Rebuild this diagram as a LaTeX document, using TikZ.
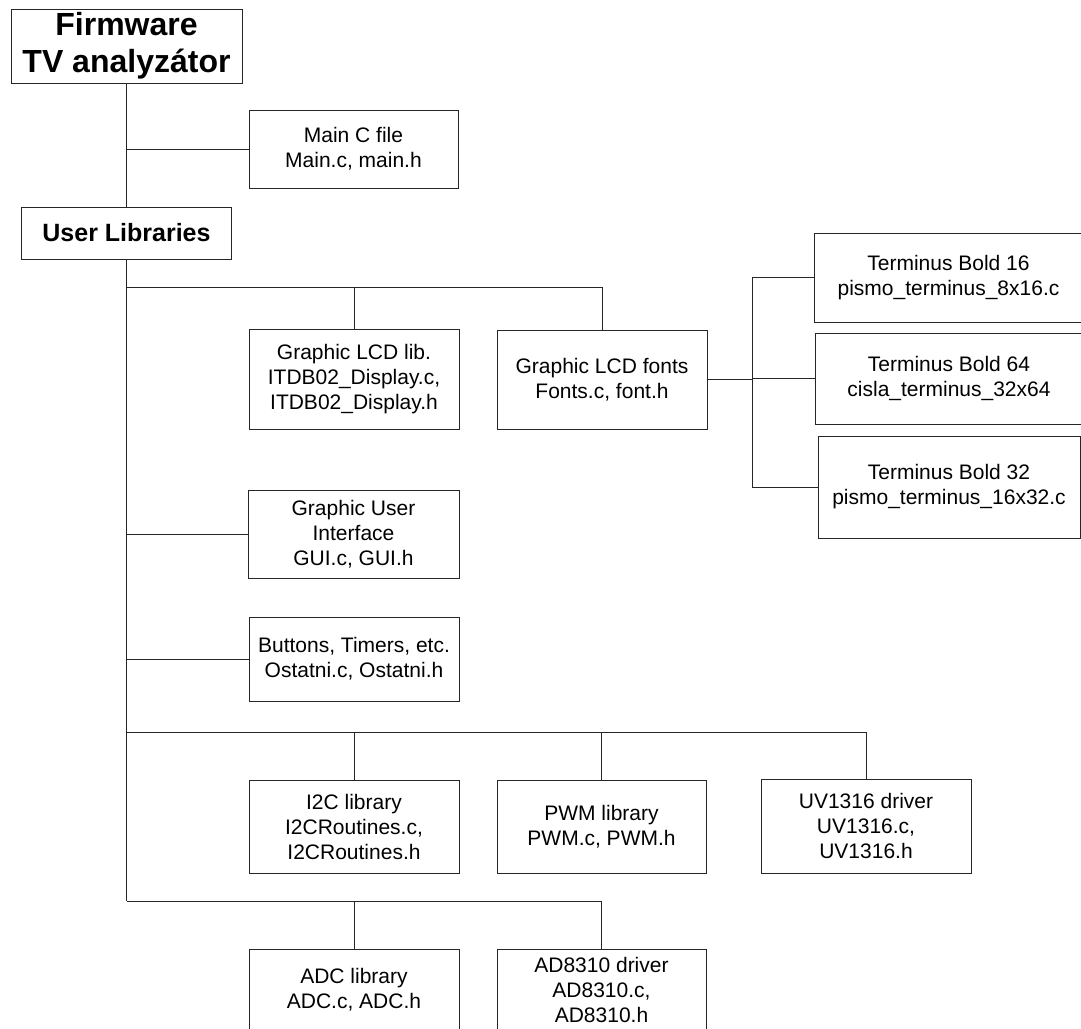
\documentclass[tikz,border=0pt]{standalone}
\usepackage{fontspec}
\setmainfont{Liberation Sans}
\begin{document}
\begin{tikzpicture}[x=1pt,y=-1pt,
  lib/.style={draw=black!85,line width=1pt,fill=white,align=center,inner sep=0pt,
    font=\fontsize{21}{25}\selectfont},
  headbox/.style={lib,font=\bfseries\fontsize{25}{29}\selectfont},
  titlebox/.style={lib,font=\bfseries\fontsize{32}{37}\selectfont},
  wire/.style={draw=black!85,line width=1pt}]
\useasboundingbox (0,0) rectangle (1081,1028);
\clip (0,0) rectangle (1081,1028);
\fill[white] (0,0) rectangle (1081,1028);

\node[titlebox,minimum width=231pt,minimum height=74pt] (title) at (126.5,46) {Firmware\\TV analyzátor};
\node[lib,minimum width=209pt,minimum height=78pt] (mainc) at (353.5,149) {Main C file\\Main.c, main.h};
\node[headbox,minimum width=210pt,minimum height=52pt] (ulib) at (126.5,233) {User Libraries};
\node[lib,minimum width=210pt,minimum height=100pt] (lcdlib) at (354,379) {Graphic LCD lib.\\ITDB02\_Display.c,\\ITDB02\_Display.h};
\node[lib,minimum width=210pt,minimum height=99pt] (lcdfonts) at (602,379.5) {Graphic LCD fonts\\Fonts.c, font.h};
\node[lib,minimum width=269pt,minimum height=89pt] (t16) at (948.5,277.5) {Terminus Bold 16\\pismo\_terminus\_8x16.c};
\node[lib,minimum width=268pt,minimum height=91pt] (t64) at (949,378.5) {Terminus Bold 64\\cisla\_terminus\_32x64};
\node[lib,minimum width=262pt,minimum height=102pt] (t32) at (949,487) {Terminus Bold 32\\pismo\_terminus\_16x32.c};
\node[lib,minimum width=211pt,minimum height=88pt] (gui) at (353.5,534) {Graphic User\\Interface\\GUI.c, GUI.h};
\node[lib,minimum width=210pt,minimum height=84pt] (btn) at (354,659) {Buttons, Timers, etc.\\Ostatni.c, Ostatni.h};
\node[lib,minimum width=210pt,minimum height=93pt] (i2c) at (354,826.5) {I2C library\\I2CRoutines.c,\\I2CRoutines.h};
\node[lib,minimum width=209pt,minimum height=93pt] (pwm) at (601.5,826.5) {PWM library\\PWM.c, PWM.h};
\node[lib,minimum width=210pt,minimum height=94pt] (uv) at (866,826) {UV1316 driver\\UV1316.c,\\UV1316.h};
\node[lib,minimum width=210pt,minimum height=81pt] (adc) at (354,989.5) {ADC library\\ADC.c, ADC.h};
\node[lib,minimum width=209pt,minimum height=81pt] (ad) at (601.5,989.5) {AD8310 driver\\AD8310.c,\\AD8310.h};

\coordinate (b1) at (0,287);
\coordinate (b2) at (0,732);
\coordinate (b3) at (0,901);
\coordinate (fx) at (752,0);

% trunk
\draw[wire] (title.south) -- (ulib.north);
\draw[wire] (title.south |- mainc.west) -- (mainc.west);
\draw[wire] (ulib.south) -- (ulib.south |- b3);
% bus 1
\draw[wire] (ulib.south |- b1) -| (lcdfonts.north);
\draw[wire] (lcdlib.north) -- (lcdlib.north |- b1);
% fonts
\draw[wire] (lcdfonts.east) -- (fx |- lcdfonts.east);
\draw[wire] (t16.west) -- (fx |- t16.west) -- (fx |- t32.west) -- (t32.west);
\draw[wire] (t64.west) -- (fx |- t64.west);
% single branches
\draw[wire] (ulib.south |- gui.west) -- (gui.west);
\draw[wire] (ulib.south |- btn.west) -- (btn.west);
% bus 2
\draw[wire] (ulib.south |- b2) -| (uv.north);
\draw[wire] (i2c.north) -- (i2c.north |- b2);
\draw[wire] (pwm.north) -- (pwm.north |- b2);
% bus 3
\draw[wire] (ulib.south |- b3) -| (ad.north);
\draw[wire] (adc.north) -- (adc.north |- b3);
\end{tikzpicture}
\end{document}
